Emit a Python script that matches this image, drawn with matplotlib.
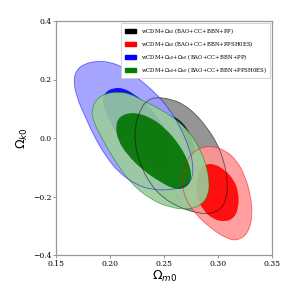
import matplotlib.pyplot as plt
from matplotlib.path import Path
from matplotlib.patches import PathPatch, Patch

# contour outlines (Omega_m0, Omega_k0)
black_out = [(0.243, 0.140), (0.256, 0.133), (0.268, 0.116), (0.280, 0.079), (0.290, 0.034),
             (0.299, -0.017), (0.305, -0.075), (0.309, -0.144), (0.308, -0.205), (0.303, -0.243),
             (0.293, -0.260), (0.280, -0.256), (0.265, -0.239), (0.249, -0.205), (0.237, -0.157),
             (0.228, -0.092), (0.223, -0.024), (0.223, 0.044), (0.229, 0.106), (0.235, 0.130)]
black_in = [(0.255, 0.080), (0.263, 0.066), (0.271, 0.036), (0.277, -0.010), (0.279, -0.050),
            (0.277, -0.092), (0.270, -0.124), (0.262, -0.128), (0.254, -0.103), (0.247, -0.051),
            (0.245, 0.007), (0.248, 0.060)]
red_out = [(0.283, -0.034), (0.294, -0.027), (0.306, -0.041), (0.317, -0.075), (0.325, -0.130),
           (0.330, -0.195), (0.332, -0.263), (0.328, -0.325), (0.318, -0.352), (0.307, -0.342),
           (0.293, -0.308), (0.279, -0.260), (0.269, -0.205), (0.267, -0.150), (0.269, -0.092),
           (0.275, -0.055)]
red_in = [(0.288, -0.089), (0.297, -0.089), (0.306, -0.109), (0.315, -0.144), (0.319, -0.188),
          (0.319, -0.236), (0.315, -0.274), (0.306, -0.287), (0.295, -0.277), (0.286, -0.246),
          (0.280, -0.202), (0.280, -0.154), (0.282, -0.109)]
blue_out = [(0.166, 0.198), (0.169, 0.233), (0.176, 0.253), (0.187, 0.263), (0.200, 0.260),
            (0.214, 0.239), (0.228, 0.198), (0.242, 0.154), (0.254, 0.103), (0.265, 0.038),
            (0.273, -0.031), (0.277, -0.092), (0.276, -0.140), (0.270, -0.165), (0.257, -0.177),
            (0.240, -0.178), (0.224, -0.160), (0.208, -0.118), (0.196, -0.062), (0.186, 0.000),
            (0.177, 0.072), (0.169, 0.140)]
blue_in = [(0.193, 0.130), (0.195, 0.155), (0.203, 0.172), (0.213, 0.170), (0.223, 0.148),
           (0.235, 0.113), (0.246, 0.062), (0.256, 0.003), (0.259, -0.058), (0.257, -0.103),
           (0.249, -0.116), (0.235, -0.096), (0.220, -0.051), (0.208, 0.000), (0.199, 0.062),
           (0.194, 0.105)]
green_out = [(0.183, 0.096), (0.187, 0.132), (0.195, 0.151), (0.207, 0.158), (0.219, 0.151),
             (0.230, 0.128), (0.243, 0.105), (0.256, 0.077), (0.270, 0.036), (0.282, -0.027),
             (0.289, -0.092), (0.292, -0.150), (0.291, -0.195), (0.285, -0.228), (0.273, -0.245),
             (0.255, -0.238), (0.236, -0.207), (0.218, -0.150), (0.204, -0.075), (0.192, 0.000),
             (0.184, 0.062)]
green_in = [(0.205, 0.044), (0.209, 0.075), (0.221, 0.089), (0.237, 0.072), (0.251, 0.034),
            (0.263, -0.017), (0.272, -0.075), (0.276, -0.130), (0.272, -0.168), (0.261, -0.178),
            (0.246, -0.150), (0.230, -0.109), (0.216, -0.058), (0.207, -0.007)]

labels = [r'wCDM+$\Omega_{k0}$ (BAO+CC+BBN+PP)',
          r'wCDM+$\Omega_{k0}$ (BAO+CC+BBN+PPSH0ES)',
          r'wCDM+$\Omega_{\nu0}$+$\Omega_{k0}$ (BAO+CC+BBN+PP)',
          r'wCDM+$\Omega_{\nu0}$+$\Omega_{k0}$ (BAO+CC+BBN+PPSH0ES)']
colors = ['black', 'red', 'blue', 'green']
outer_colors = ['#8a8a8a', '#ff9595', '#9b9bff', '#9bcd9b']
inner_colors = ['#000000', '#ff0000', '#0000ff', '#007300']
sets = [(black_out, black_in), (red_out, red_in), (blue_out, blue_in), (green_out, green_in)]


def smooth_path(pts):
    # closed quadratic bezier through the midpoints of the outline points
    n = len(pts)
    mid = [((pts[i][0] + pts[(i + 1) % n][0]) / 2, (pts[i][1] + pts[(i + 1) % n][1]) / 2)
           for i in range(n)]
    verts = [mid[0]]
    codes = [Path.MOVETO]
    for i in range(1, n + 1):
        verts += [pts[i % n], mid[i % n]]
        codes += [Path.CURVE3, Path.CURVE3]
    verts.append(mid[0])
    codes.append(Path.CLOSEPOLY)
    return Path(verts, codes)


plt.rcParams['mathtext.fontset'] = 'dejavusans'
fig = plt.figure(figsize=(3, 3), dpi=100)
ax = fig.add_axes([0.187, 0.15, 0.72, 0.78])

for (outer, inner), co, ci in zip(sets, outer_colors, inner_colors):
    ax.add_patch(PathPatch(smooth_path(outer), facecolor=co, alpha=0.9, edgecolor='none'))
    ax.add_patch(PathPatch(smooth_path(inner), facecolor=ci, alpha=0.9, edgecolor='none'))
for (outer, inner), c in zip(sets, colors):
    ax.add_patch(PathPatch(smooth_path(outer), facecolor='none', edgecolor=c, lw=0.6, alpha=0.55))

ax.set_xlim(0.15, 0.35)
ax.set_ylim(-0.4, 0.4)
ax.set_xticks([0.15, 0.20, 0.25, 0.30, 0.35])
ax.set_xticklabels(['0.15', '0.20', '0.25', '0.30', '0.35'], family='DejaVu Serif')
ax.set_yticks([-0.4, -0.2, 0.0, 0.2, 0.4])
ax.set_yticklabels(['\u22120.4', '\u22120.2', '0.0', '0.2', '0.4'], family='DejaVu Serif')
ax.tick_params(labelsize=5.5, length=2, width=0.6, color='#888888', pad=1.5)
for s in ax.spines.values():
    s.set_color('#999999')
    s.set_linewidth(0.9)
ax.set_xlabel(r'$\Omega_{m0}$', fontsize=9, labelpad=1)
ax.set_ylabel(r'$\Omega_{k0}$', fontsize=9, labelpad=2)

handles = [Patch(facecolor=c, edgecolor=c) for c in colors]
leg = ax.legend(handles, labels, loc='upper right', handlelength=2.2,
                handleheight=0.6, labelspacing=0.6, borderpad=0.6, handletextpad=0.9,
                prop={'family': 'DejaVu Serif', 'size': 3.9}, fancybox=False, framealpha=1,
                borderaxespad=0.3)
leg.get_frame().set_edgecolor('#cccccc')
leg.get_frame().set_linewidth(0.6)

fig.savefig('out.png', dpi=100)
